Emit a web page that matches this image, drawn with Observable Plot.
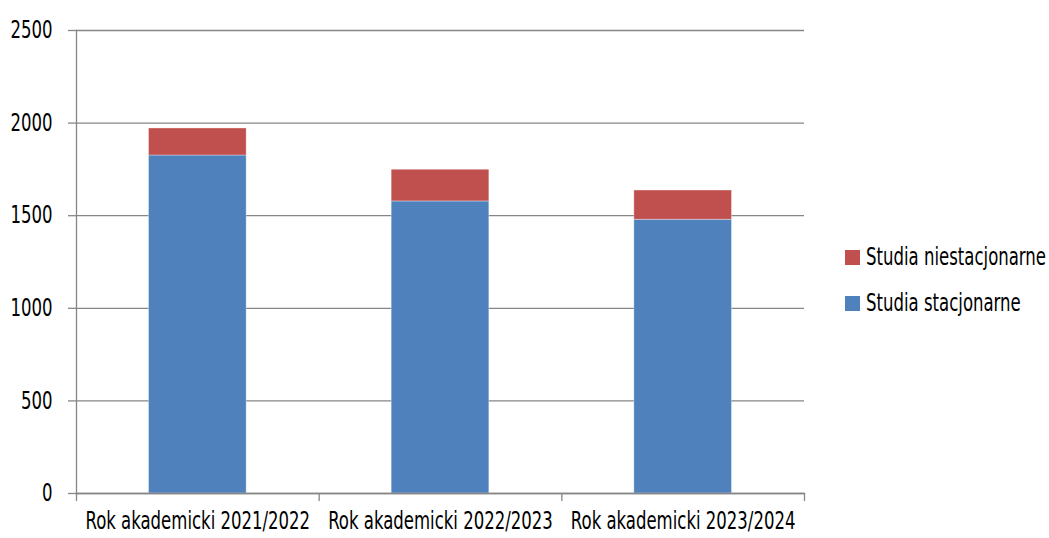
<!DOCTYPE html>
<html>
<head>
<meta charset="utf-8">
<script src="https://cdn.jsdelivr.net/npm/d3@7"></script>
<script src="https://cdn.jsdelivr.net/npm/@observablehq/plot@0.6"></script>
<style>
  html, body { margin: 0; padding: 0; background: #fff; }
  #wrap { position: relative; width: 1049px; height: 538px; font-family: "DejaVu Sans Condensed", "DejaVu Sans", sans-serif; font-stretch: condensed; }
  #legend { position: absolute; left: 845px; top: 242px; font-size: 24px; color: #000; }
  .item { display: flex; align-items: center; height: 30px; margin-bottom: 16px; white-space: nowrap; }
  .sw { width: 15px; height: 15px; margin-right: 6px; flex: none; }
  .item span { display: inline-block; transform: scaleX(0.766); transform-origin: left center; }
  svg text { font-stretch: condensed; }
</style>
</head>
<body>
<div id="wrap"><div id="legend"></div></div>
<script>
const categories = ["Rok akademicki 2021/2022", "Rok akademicki 2022/2023", "Rok akademicki 2023/2024"];
const stacjonarne = [1825, 1577, 1478];
const niestacjonarne = [146, 171, 158];
const seriesNames = ["Studia stacjonarne", "Studia niestacjonarne"];
const colors = ["#4F81BD", "#C0504D"];
const yTicks = [0, 500, 1000, 1500, 2000, 2500];

const data = [];
categories.forEach((c, i) => {
  data.push({idx: i, series: seriesNames[0], y1: 0, y2: stacjonarne[i]});
  data.push({idx: i, series: seriesNames[1], y1: stacjonarne[i], y2: stacjonarne[i] + niestacjonarne[i]});
});

const gray = "#868686";
const chart = Plot.plot({
  width: 1049,
  height: 538,
  marginLeft: 76,
  marginRight: 245,
  marginTop: 30,
  marginBottom: 45,
  style: {fontFamily: '"DejaVu Sans Condensed", "DejaVu Sans", sans-serif', fontSize: "24px", color: "#000", background: "#fff"},
  x: {domain: [0, categories.length]},
  y: {domain: [0, 2500]},
  color: {domain: seriesNames, range: colors},
  marks: [
    Plot.gridY(yTicks, {stroke: gray, strokeOpacity: 1, strokeWidth: 1.3}),
    Plot.rectY(data, {x1: d => d.idx, x2: d => d.idx + 1, y1: "y1", y2: "y2", fill: "series", insetLeft: 72.5, insetRight: 72.5, stroke: "#fff", strokeOpacity: 0.35, strokeWidth: 1}),
    Plot.axisY({ticks: yTicks, tickSize: 8, tickPadding: 16, tickFormat: d3.format("d"), stroke: gray, strokeWidth: 1.3, fill: "#000", label: null}),
    Plot.axisX({ticks: d3.range(0, categories.length + 1), tickSize: 8, tickFormat: () => "", stroke: gray, strokeWidth: 1.3, label: null}),
    Plot.axisX({ticks: categories.map((c, i) => i + 0.5), tickSize: 0, tickPadding: 18, tickFormat: v => categories[Math.round(v - 0.5)], fill: "#000", label: null}),
    Plot.frame({anchor: "left", stroke: gray, strokeWidth: 1.3}),
    Plot.frame({anchor: "bottom", stroke: gray, strokeWidth: 1.3})
  ]
});
// horizontally condense the tick labels around their anchor points
chart.querySelectorAll("text").forEach(t => {
  const tr = t.getAttribute("transform");
  if (tr) t.setAttribute("transform", tr + " scale(0.766,1)");
});
document.getElementById("wrap").prepend(chart);
chart.style.position = "absolute";
chart.style.left = "0";
chart.style.top = "0";

const legend = document.getElementById("legend");
[1, 0].forEach(k => {
  const it = document.createElement("div");
  it.className = "item";
  const sw = document.createElement("div");
  sw.className = "sw";
  sw.style.background = colors[k];
  const t = document.createElement("span");
  t.textContent = seriesNames[k];
  it.appendChild(sw);
  it.appendChild(t);
  legend.appendChild(it);
});
</script>
</body>
</html>
